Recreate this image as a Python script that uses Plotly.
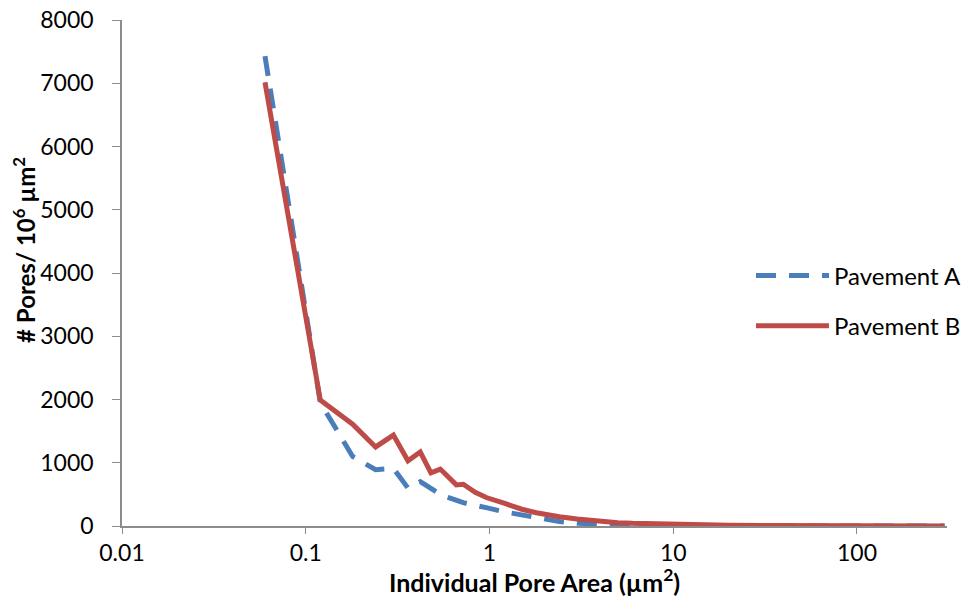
import plotly.graph_objects as go

area = [0.06, 0.12, 0.18, 0.24, 0.30, 0.36, 0.42, 0.48, 0.54, 0.60, 0.66, 0.72,
        0.78, 0.84, 0.90, 0.96, 1.2, 1.5, 1.8, 2.1, 2.4, 3, 4, 5, 6, 8, 10, 15,
        20, 30, 50, 100, 200, 300]
pavement_a = [7430, 1950, 1100, 890, 910, 600, 700, 590, 500, 450, 400, 370,
              345, 330, 310, 290, 225, 170, 126, 95, 70, 45, 22, 14, 10, 7, 5, 3,
              2, 1, 1, 1, 0, 0]
pavement_b = [7015, 1990, 1610, 1250, 1437, 1030, 1170, 840, 900, 780, 650, 660,
              590, 530, 490, 450, 360, 265, 210, 172, 145, 110, 68, 52, 42, 30, 22, 14,
              10, 6, 4, 2, 1, 1]

x_title = "<b>Individual Pore Area (µm<sup>2</sup>)</b>"
y_title = "<b># Pores/ 10<sup>6</sup> µm<sup>2</sup></b>"

font = "Lato, 'Open Sans', sans-serif"
fs = 23

fig = go.Figure()
fig.add_trace(go.Scatter(x=area, y=pavement_a, mode="lines", name="Pavement A",
                         legendgroup="a",
                         line=dict(color="#4A7EBB", width=5, dash="20px,13px")))
fig.add_trace(go.Scatter(x=area, y=pavement_b, mode="lines", name="Pavement B",
                         legendgroup="b",
                         line=dict(color="#BE4B48", width=5)))

fig.update_layout(
    width=969, height=598,
    margin=dict(l=122, r=22, t=20, b=72, autoexpand=False),
    paper_bgcolor="white", plot_bgcolor="white",
    font=dict(family=font, size=fs, color="#000000"),
    showlegend=True,
    legend=dict(x=0.7624, y=0.445, xanchor="left", yanchor="middle",
                bgcolor="rgba(0,0,0,0)", font=dict(size=fs + 1),
                itemwidth=73, tracegroupgap=16, traceorder="grouped"),
    xaxis=dict(type="log", range=[-2, 2.49], showgrid=False, zeroline=False,
               automargin=False,
               showline=True, linecolor="#8C8C8C", linewidth=1.5,
               ticks="outside", ticklen=6, tickcolor="#8C8C8C",
               tickvals=[0.01, 0.1, 1, 10, 100], ticktext=["0.01", "0.1", "1", "10", "100"],
               tickfont=dict(size=fs), ticklabelstandoff=0),
    yaxis=dict(range=[0, 8000], showgrid=False, zeroline=False,
               automargin=False,
               showline=True, linecolor="#8C8C8C", linewidth=1.5,
               ticks="outside", ticklen=8, tickcolor="#8C8C8C",
               tickvals=[0, 1000, 2000, 3000, 4000, 5000, 6000, 7000, 8000],
               tickfont=dict(size=fs), ticklabelstandoff=14),
    annotations=[
        dict(text=x_title, xref="paper", yref="paper", x=0.5, y=-0.108,
             xanchor="center", yanchor="middle", showarrow=False,
             font=dict(size=25)),
        dict(text=y_title, xref="paper", yref="paper", x=-0.118, y=0.545,
             xanchor="center", yanchor="middle", showarrow=False, textangle=-90,
             font=dict(size=24)),
    ],
)

post = ("document.documentElement.style.margin='0';"
        "document.body.style.margin='0';"
        "document.body.style.overflow='hidden';")

fig.write_html("out.html", post_script=post, config={"displayModeBar": False})
